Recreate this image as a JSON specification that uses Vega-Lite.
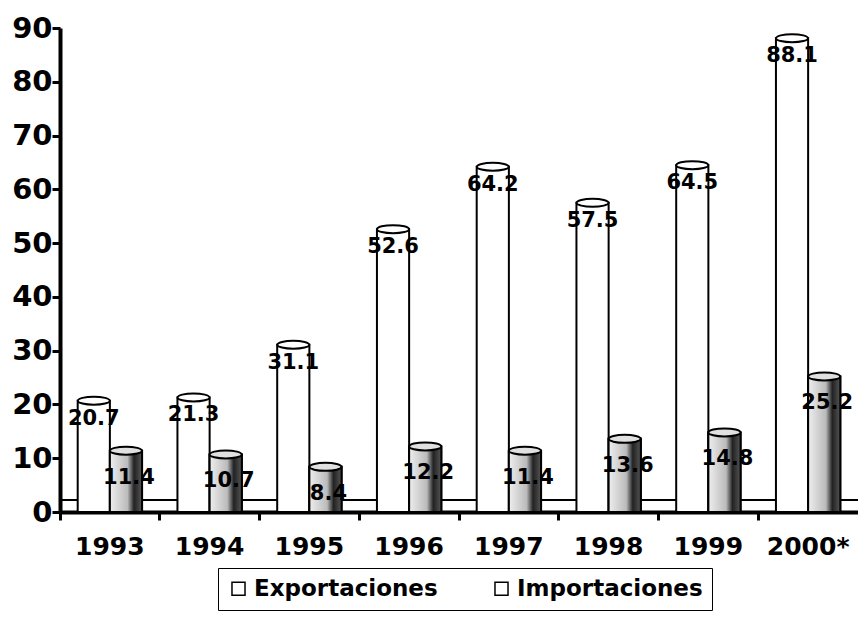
{
  "$schema": "https://vega.github.io/schema/vega-lite/v6.json",
  "width": 798,
  "height": 484,
  "autosize": {"type": "none"},
  "padding": {"left": 60, "top": 28, "right": 0, "bottom": 124},
  "background": "white",
  "config": {
    "view": {"stroke": null},
    "font": "DejaVu Sans",
    "axis": {"grid": false, "domainColor": "black", "tickColor": "black", "labelColor": "black", "labelFont": "DejaVu Sans", "labelFontWeight": "bold"}
  },
  "data": {
    "values": [
      {"year": "1993", "series": "Exportaciones", "value": 20.7},
      {"year": "1993", "series": "Importaciones", "value": 11.4},
      {"year": "1994", "series": "Exportaciones", "value": 21.3},
      {"year": "1994", "series": "Importaciones", "value": 10.7},
      {"year": "1995", "series": "Exportaciones", "value": 31.1},
      {"year": "1995", "series": "Importaciones", "value": 8.4},
      {"year": "1996", "series": "Exportaciones", "value": 52.6},
      {"year": "1996", "series": "Importaciones", "value": 12.2},
      {"year": "1997", "series": "Exportaciones", "value": 64.2},
      {"year": "1997", "series": "Importaciones", "value": 11.4},
      {"year": "1998", "series": "Exportaciones", "value": 57.5},
      {"year": "1998", "series": "Importaciones", "value": 13.6},
      {"year": "1999", "series": "Exportaciones", "value": 64.5},
      {"year": "1999", "series": "Importaciones", "value": 14.8},
      {"year": "2000*", "series": "Exportaciones", "value": 88.1},
      {"year": "2000*", "series": "Importaciones", "value": 25.2}
    ]
  },
  "encoding": {
    "x": {
      "field": "year", "type": "nominal", "sort": null,
      "scale": {"paddingInner": 0, "paddingOuter": 0},
      "axis": {"title": null, "labelAngle": 0, "labelFontSize": 25, "labelPadding": 14, "domainWidth": 4, "tickWidth": 3, "tickSize": 8, "bandPosition": 0}
    },
    "xOffset": {"field": "series", "type": "nominal", "scale": {"paddingInner": 0, "paddingOuter": 0.55}},
    "y": {
      "field": "value", "type": "quantitative",
      "scale": {"domain": [0, 90], "nice": false},
      "axis": {"title": null, "values": [0,10,20,30,40,50,60,70,80,90], "labelFontSize": 29, "labelPadding": 0, "domainWidth": 4, "tickWidth": 3, "tickSize": 8}
    }
  },
  "layer": [
    {
      "mark": {"type": "rule", "color": "black", "strokeWidth": 1.5},
      "encoding": {"x": null, "xOffset": null, "y": {"datum": 2.2}}
    },
    {
      "mark": {"type": "bar", "stroke": "black", "strokeWidth": 2},
      "encoding": {
        "color": {
          "field": "series", "type": "nominal",
          "scale": {"range": ["white", "white"]},
          "legend": {
            "title": null, "orient": "none", "legendX": 158, "legendY": 540,
            "direction": "horizontal", "columns": 2, "columnPadding": 52,
            "symbolType": "square", "symbolSize": 170, "symbolStrokeColor": "black", "symbolStrokeWidth": 1.5,
            "labelFontSize": 23, "labelFontWeight": "bold", "labelFont": "DejaVu Sans", "labelColor": "black", "labelLimit": 400,
            "strokeColor": "black", "padding": 9
          }
        }
      }
    },
    {
      "transform": [{"filter": "datum.series === 'Importaciones'"}],
      "mark": {
        "type": "bar", "stroke": "black", "strokeWidth": 2,
        "fill": {"gradient": "linear", "x1": 0, "x2": 1, "y1": 0, "y2": 0,
          "stops": [{"offset": 0, "color": "#eeeeee"}, {"offset": 0.55, "color": "#bbbbbb"}, {"offset": 0.75, "color": "#222222"}, {"offset": 1, "color": "#555555"}]}
      }
    },
    {
      "mark": {"type": "point", "shape": "M-1,0 A1,0.25 0 1,1 1,0 A1,0.25 0 1,1 -1,0 Z", "size": 1024, "filled": true, "stroke": "black", "strokeWidth": 2, "opacity": 1},
      "encoding": {
        "fill": {"field": "series", "type": "nominal", "scale": {"range": ["white", "#e0e0e0"]}, "legend": null}
      }
    },
    {
      "transform": [{"filter": "datum.series === 'Exportaciones'"}],
      "mark": {"type": "text", "dy": 18, "fontSize": 21, "fontWeight": "bold", "color": "black"},
      "encoding": {"text": {"field": "value", "type": "quantitative", "format": ".1f"}}
    },
    {
      "transform": [{"filter": "datum.series === 'Importaciones'"}],
      "mark": {"type": "text", "dy": 27, "dx": 3, "fontSize": 21, "fontWeight": "bold", "color": "black"},
      "encoding": {"text": {"field": "value", "type": "quantitative", "format": ".1f"}}
    }
  ]
}
